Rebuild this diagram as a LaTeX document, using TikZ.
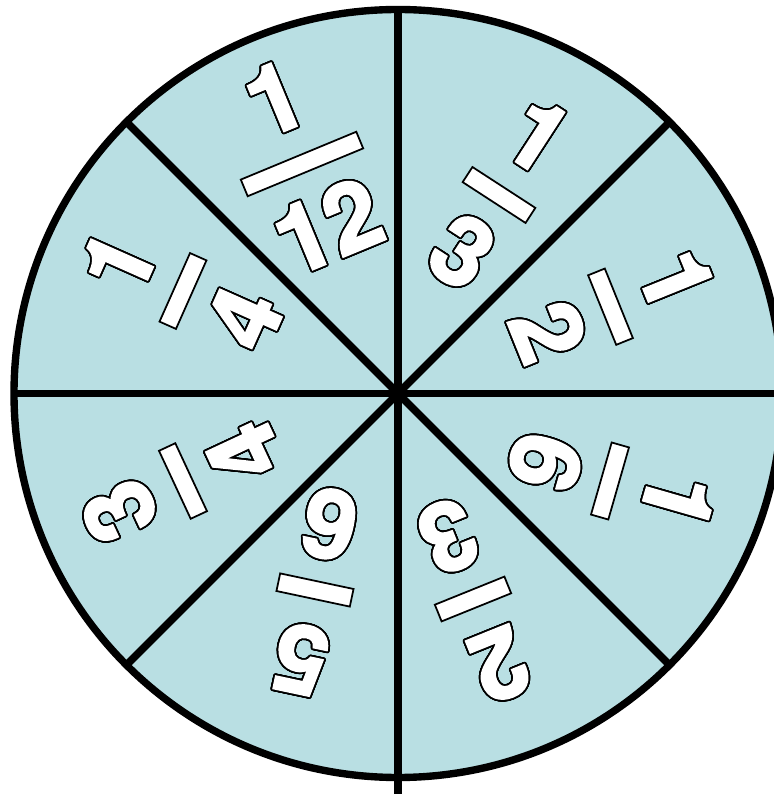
\documentclass[tikz,border=0pt]{standalone}
\usepackage{fontspec}
\usepackage{contour}
\newfontfamily\digitfont{TeX Gyre Heros}[BoldFeatures={FakeBold=2.6}]
\usetikzlibrary{calc}
\definecolor{spinFill}{RGB}{185,223,227}
\contourlength{0.5pt}
\contournumber{32}

\begin{document}
\begin{tikzpicture}[
  rim/.style={draw=black,line width=2.1pt},
  spoke/.style={draw=black,line width=2.2pt},
  digit/.style={font=\digitfont\bfseries\fontsize{27}{27}\selectfont,text=white,
                inner sep=0pt,text depth=0pt,transform shape},
  fracbar/.style={draw=black,fill=white,line width=0.5pt,minimum width=7.5mm,
                  minimum height=1.8mm,inner sep=0pt,transform shape}]

\useasboundingbox (-3.98,-4.005) rectangle (3.75,3.935);

% ===== wheel =====
\coordinate (hub) at (0,0);
\fill[spinFill] (hub) circle (3.84);
\draw[spoke] (-3.84,0) -- (3.84,0);
\draw[spoke] (90:3.84) -- (0,-4.005);
\draw[spoke] (45:3.84) -- (225:3.84);
\draw[spoke] (135:3.84) -- (315:3.84);
\draw[rim] (hub) circle (3.84);

% ===== fractions, numerator on the outside =====
\foreach \bx/\by/\rot/\num/\den/\bw/\nm in {
    -0.96/2.295/22.5/1/12/12.5mm/a,
    1.01/1.985/-33/1/3/7.5mm/b,
    2.125/0.868/-68/1/2/7.5mm/c,
    2.12/-0.875/-106/1/6/7.5mm/d,
    0.75/-2.055/-158/2/3/7.5mm/e,
    -0.83/-1.965/168/5/6/7.5mm/f,
    -2.15/-0.875/115/3/4/7.5mm/g,
    -2.15/1.025/66/1/4/7.5mm/h}{
  \begin{scope}[shift={(\bx,\by)},rotate=\rot]
    \node[digit] (num\nm) at (0,0.71) {\contour{black}{\num}};
    \node[fracbar,minimum width=\bw] (bar\nm) at (0,0) {};
    \node[digit] (den\nm) at (0,-0.67) {\contour{black}{\den}};
  \end{scope}
}
\end{tikzpicture}
\end{document}
